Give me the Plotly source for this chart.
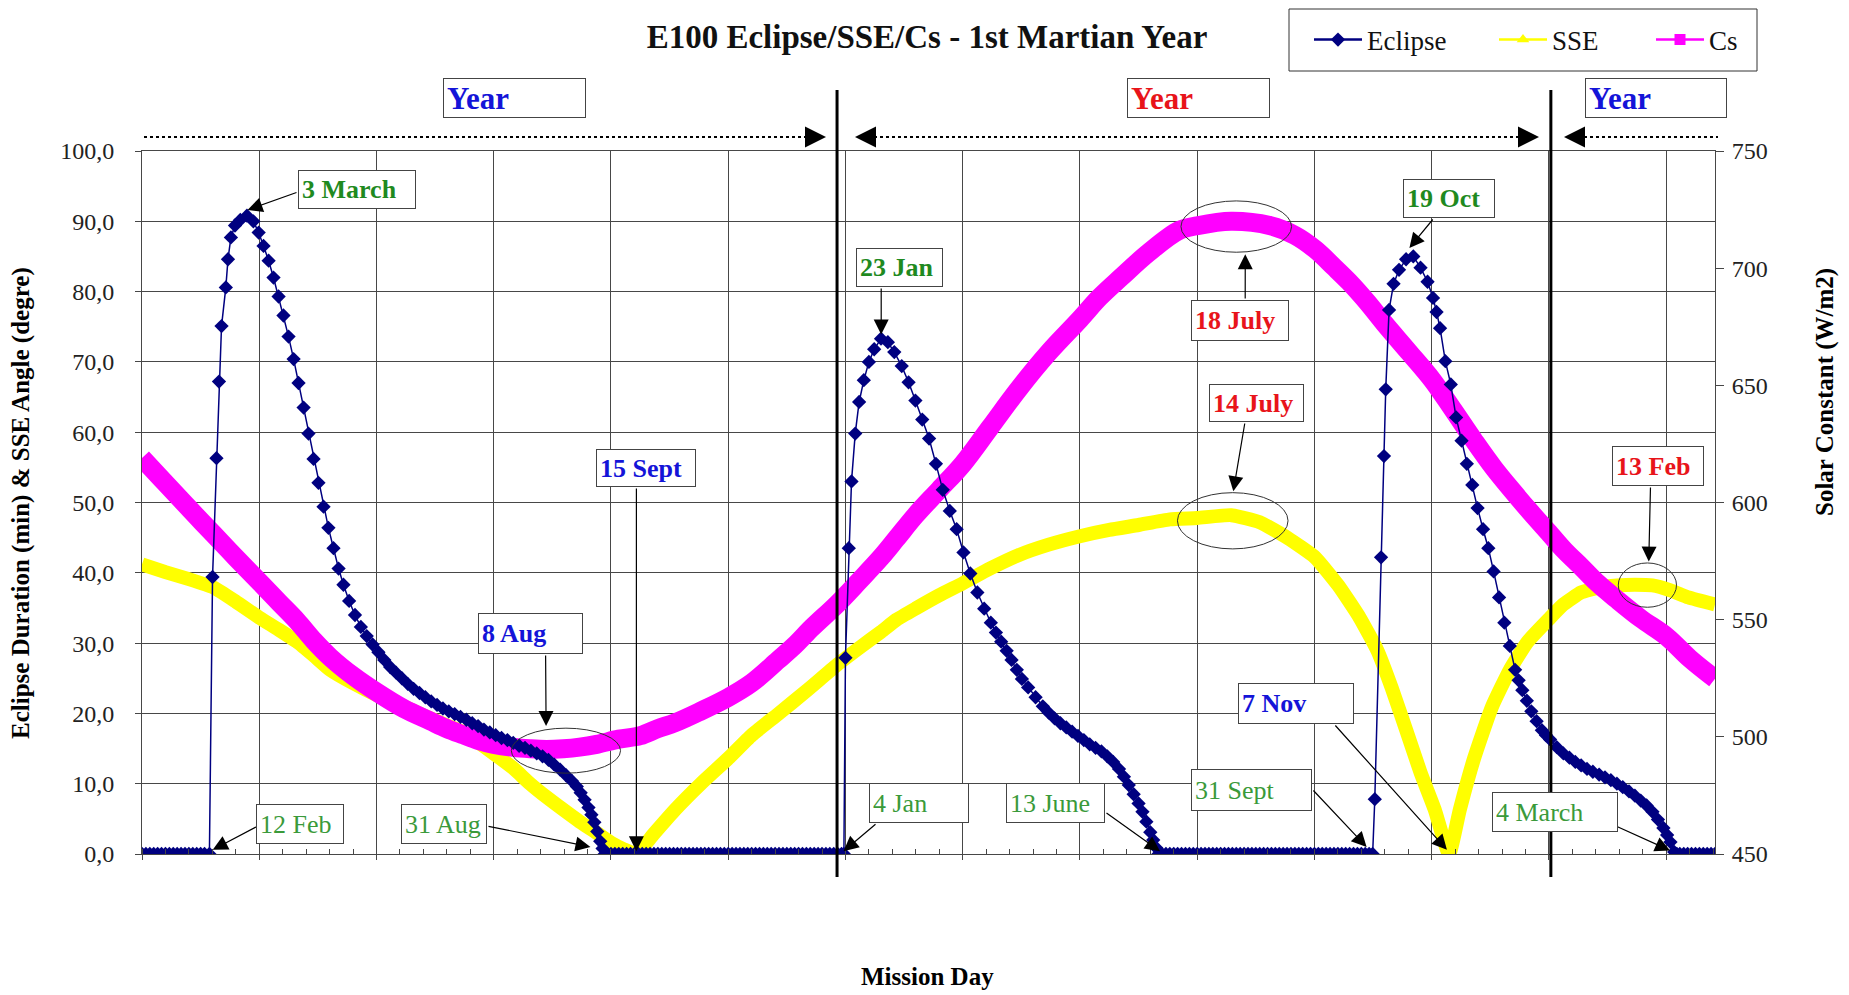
import plotly.graph_objects as go

# ---------------------------------------------------------------- data
# Eclipse duration (min) versus mission day
ECL_DAY = [0, 2, 4, 6, 8, 10, 12, 14, 16, 18, 20, 22, 24, 26, 28, 30, 32, 34.5,
           36.1, 38.1, 39.4, 40.7, 42.9, 44.0, 45.5, 47.6, 50.3, 53.7,
           57.0, 59.7, 62.2, 64.8, 67.3, 69.9, 72.4, 75.0, 77.6, 80.1,
           82.7, 85.2, 87.8, 90.3, 92.9, 95.4, 98.0, 100.6, 103.1, 106.0,
           109.0, 112.0, 115.0, 118.0, 121.0, 124.0, 127.0, 130.0, 133.0, 136.0,
           139.0, 142.0, 145.0, 148.0, 151.0, 154.0, 157.0, 160.0, 163.0, 166.0,
           169.0, 172.0, 175.0, 178.0, 181.0, 184.0, 187.0, 190.0, 193.0, 196.0,
           199.0, 202.0, 205.0, 208.0, 211.0, 214.0, 217.0, 220.0, 222.5, 224.5,
           226.5, 228.5, 230.0, 231.5, 233.0, 234.5, 235.7, 236.8,
           238, 240, 242, 244, 246, 248, 250, 252, 254, 256, 258, 260, 262, 264,
           266, 268, 270, 272, 274, 276, 278, 280, 282, 284, 286, 288, 290, 292,
           294, 296, 298, 300, 302, 304, 306, 308, 310, 312, 314, 316, 318, 320,
           322, 324, 326, 328, 330, 332, 334, 336, 338, 340, 342, 344, 346, 348,
           350, 352, 354, 356, 358, 359.2,
           360.0, 361.7, 363.1, 365.0, 367.0, 369.4, 372.0, 374.7, 378.2,
           381.7, 385.0, 388.8, 392.3, 395.8, 399.3, 402.8, 406.3, 409.8, 413.4,
           416.9, 420.4, 423.9, 427.5, 431.0, 434.4, 437.0, 439.7, 442.5, 445.0,
           447.7, 450.3, 453.5, 457.3, 461.0, 464.0, 467.0, 470.0, 473.0, 476.0,
           479.0, 482.0, 485.0, 488.0, 491.0, 494.0, 497.0, 500.0, 502.5, 505.0,
           507.5, 510.0, 512.0, 514.0, 516.0, 517.5, 519.0, 520.2,
           522, 524, 526, 528, 530, 532, 534, 536, 538, 540, 542, 544, 546, 548,
           550, 552, 554, 556, 558, 560, 562, 564, 566, 568, 570, 572, 574, 576,
           578, 580, 582, 584, 586, 588, 590, 592, 594, 596, 598, 600, 602, 604,
           606, 608, 610, 612, 614, 616, 618, 620, 622, 624, 626, 628, 629.8,
           630.9, 634.1, 635.6, 636.5, 638.2, 640.5, 643.3, 646.9, 650.6,
           654.3, 657.9, 660.7, 662.5, 664.3, 667.0, 669.8, 672.5, 675.3, 678.0,
           680.8, 683.5, 686.3, 689.0, 691.7, 694.5, 697.2, 700.0, 702.7, 704.5,
           706.4, 708.7, 711.0, 713.7, 716.4, 718.5, 720.6, 724.0, 727.4, 730.5,
           733.5, 736.5, 739.5, 742.5, 745.7, 748.7, 751.7, 754.8, 757.8, 761.0,
           764.0, 767.0, 770.0, 773.0, 775.8, 778.6, 780.5, 782.2, 784.1, 785.5,
           787, 789, 791, 793, 795, 797, 799, 801, 803, 805]
ECL_MIN = [0, 0, 0, 0, 0, 0, 0, 0, 0, 0, 0, 0, 0, 0, 0, 0, 0, 0,
           39.4, 56.3, 67.2, 75.1, 80.6, 84.6, 87.7, 89.4, 90.2, 90.8,
           90.0, 88.4, 86.5, 84.4, 82.0, 79.3, 76.6, 73.6, 70.4, 67.0,
           63.5, 59.8, 56.2, 52.8, 49.4, 46.4, 43.5, 40.6, 38.3, 36.0,
           34.0, 32.3, 31.0, 29.8, 28.7, 27.6, 26.6, 25.8, 25.0, 24.2,
           23.5, 22.9, 22.3, 21.7, 21.2, 20.7, 20.3, 19.9, 19.5, 19.1,
           18.6, 18.2, 17.7, 17.3, 16.9, 16.5, 16.2, 15.8, 15.4, 15.1,
           14.7, 14.3, 13.9, 13.4, 12.7, 12.0, 11.2, 10.4, 9.6, 8.7,
           7.7, 6.6, 5.6, 4.5, 3.2, 1.8, 0.8, 0,
           0, 0, 0, 0, 0, 0, 0, 0, 0, 0, 0, 0, 0, 0,
           0, 0, 0, 0, 0, 0, 0, 0, 0, 0, 0, 0, 0, 0,
           0, 0, 0, 0, 0, 0, 0, 0, 0, 0, 0, 0, 0, 0,
           0, 0, 0, 0, 0, 0, 0, 0, 0, 0, 0, 0, 0, 0,
           0, 0, 0, 0, 0, 0,
           27.9, 43.5, 53.0, 59.8, 64.3, 67.4, 70.0, 71.8, 73.3,
           72.8, 71.4, 69.4, 67.1, 64.5, 61.8, 59.1, 55.5, 51.8, 48.8,
           46.2, 42.9, 39.9, 37.2, 34.9, 32.9, 31.5, 30.2, 28.9, 27.6,
           26.2, 24.9, 23.7, 22.3, 21.0, 20.1, 19.3, 18.6, 18.0, 17.4,
           16.8, 16.2, 15.6, 15.1, 14.6, 13.9, 13.1, 12.1, 11.0, 9.8,
           8.5, 7.2, 6.0, 4.6, 3.1, 2.0, 0.9, 0,
           0, 0, 0, 0, 0, 0, 0, 0, 0, 0, 0, 0, 0, 0,
           0, 0, 0, 0, 0, 0, 0, 0, 0, 0, 0, 0, 0, 0,
           0, 0, 0, 0, 0, 0, 0, 0, 0, 0, 0, 0, 0, 0,
           0, 0, 0, 0, 0, 0, 0, 0, 0, 0, 0, 0, 0,
           7.8, 42.2, 56.6, 66.1, 77.4, 81.1, 83.1, 84.6, 85.0,
           83.4, 81.4, 79.1, 77.1, 74.8, 70.1, 66.8, 62.1, 58.8, 55.5,
           52.5, 49.2, 46.2, 43.5, 40.2, 36.5, 32.9, 29.6, 26.2, 24.7,
           23.3, 21.8, 20.3, 18.9, 17.6, 16.9, 16.3, 15.2, 14.3, 13.7,
           13.1, 12.6, 12.1, 11.7, 11.3, 10.9, 10.5, 10.0, 9.5, 8.9,
           8.3, 7.6, 6.9, 6.0, 4.9, 3.7, 2.7, 1.7, 0.3, 0,
           0, 0, 0, 0, 0, 0, 0, 0, 0, 0]

# Sun-Spacecraft-Earth angle (degrees)
SSE_DAY = [0, 12, 24, 36.6, 48, 60.2, 70, 79.3, 88, 96.3, 108, 120.2, 134, 147.4,
           156, 164.5, 172, 180, 190, 198.6, 207, 215.6, 224, 232.7, 240, 246.3,
           253, 262, 272.8, 286, 300, 312, 325.5, 340, 355.7, 367, 378.2, 386,
           395.8, 408, 420, 434, 448.5, 464, 480, 495, 510, 526, 540, 557.4, 572,
           586.6, 600.3, 612.2, 623.2, 632.3, 639.6, 647, 654.3, 661.6, 668.9,
           674.4, 681.7, 690.8, 700, 709.1, 720.6, 727.4, 736.5, 745.7, 754.8,
           764, 773, 782.2, 791.4, 805]
SSE_DEG = [41.2, 40.1, 39.1, 37.9, 35.9, 33.6, 31.9, 30.2, 28.2, 26.2, 24.3, 22.6,
           21.0, 19.3, 18.3, 17.3, 15.9, 14.3, 12.2, 10.0, 8.1, 6.3, 4.6, 3.0, 1.6,
           0.7, 0.0, 2.9, 6.3, 10.0, 13.6, 16.9, 19.9, 23.2, 26.9, 29.3, 31.6, 33.3,
           34.9, 36.8, 38.5, 40.6, 42.5, 44.0, 45.2, 46.1, 46.8, 47.6, 47.8, 48.2,
           47.2, 44.9, 42.2, 38.2, 33.6, 28.9, 23.6, 17.6, 11.6, 6.3, 0.0, 6.3,
           13.6, 20.9, 26.2, 30.2, 33.6, 35.5, 37.2, 37.9, 38.2, 38.3, 38.2, 37.5,
           36.5, 35.5]

# Solar constant (W/m2)
CS_DAY = [0, 10, 19.6, 28, 36.6, 48, 60.2, 70, 79.3, 88, 96.3, 108, 120.2, 134,
          147.4, 156, 164.5, 172, 180, 190, 198.6, 207, 215.6, 224, 232.7, 244,
          255, 264, 272.8, 286, 300, 312, 325.5, 334, 343, 355.7, 367, 378.2, 386,
          395.8, 408, 420, 434, 448.5, 464, 480, 490, 501.2, 515, 530.8, 540,
          557.4, 577.5, 590, 600.3, 610, 617.7, 627, 636, 648, 660.3, 671, 681.7,
          692, 701.8, 711, 720.6, 728, 736.5, 745, 754.8, 767, 780.4, 792, 805]
CS_WM2 = [619.0, 610.0, 601.5, 594.0, 586.5, 576.5, 566.0, 557.5, 549.5, 541.0,
          534.0, 526.0, 519.0, 512.0, 506.8, 503.5, 500.8, 498.5, 496.8, 495.5,
          494.9, 494.6, 494.9, 495.6, 496.8, 499.0, 500.5, 503.5, 506.0, 511.0,
          516.8, 523.0, 532.7, 539.0, 546.7, 556.6, 566.5, 576.6, 584.5, 594.5,
          605.5, 616.4, 632.0, 648.3, 664.0, 678.2, 687.5, 696.2, 706.5, 716.1,
          718.1, 720.0, 718.1, 714.0, 708.1, 700.5, 694.2, 685.5, 676.2, 664.5,
          652.3, 639.5, 626.4, 614.5, 604.5, 595.5, 586.5, 579.5, 572.6, 565.5,
          558.6, 550.5, 542.7, 533.5, 524.8]

LEFT_TICKS = [0, 10, 20, 30, 40, 50, 60, 70, 80, 90, 100]
LEFT_TICKTEXT = ["0,0", "10,0", "20,0", "30,0", "40,0", "50,0", "60,0",
                 "70,0", "80,0", "90,0", "100,0"]
RIGHT_TICKS = [450, 500, 550, 600, 650, 700, 750]
X_RANGE = [0, 805]
YEAR_BOUNDS = [355.7, 721.0]          # Jan 1st of each calendar year

# ---------------------------------------------------------------- layout geometry
W, H = 1849, 995
ML, MR, MT, MB = 142, 134, 151, 141
PW, PH = W - ML - MR, H - MT - MB
SERIF = "Liberation Serif, Times New Roman, serif"
GRID = "#474747"
NAVY, YELLOW, MAGENTA = "#000080", "#ffff00", "#ff00ff"

GREEN_B = "#1f8a1f"
GREEN_R = "#3a9a3a"
BLUE = "#1414d8"
RED = "#e8141a"


def paper_x(px):
    return (px - ML) / PW


def paper_y(py):
    return (H - MB - py) / PH


def day_at(px):
    return X_RANGE[0] + (px - ML) / PW * (X_RANGE[1] - X_RANGE[0])


def val_at(py):
    return (H - MB - py) / PH * 100.0


fig = go.Figure()

fig.add_trace(go.Scatter(x=SSE_DAY, y=SSE_DEG, mode="lines", yaxis="y",
                         line=dict(color=YELLOW, width=14, shape="spline", smoothing=0.45),
                         showlegend=False, hoverinfo="skip"))
fig.add_trace(go.Scatter(x=CS_DAY, y=CS_WM2, mode="lines", yaxis="y2",
                         line=dict(color=MAGENTA, width=19, shape="spline", smoothing=1),
                         showlegend=False, hoverinfo="skip"))
fig.add_trace(go.Scatter(x=ECL_DAY, y=ECL_MIN, mode="lines+markers", yaxis="y3",
                         line=dict(color=NAVY, width=1.5),
                         marker=dict(symbol="diamond", size=11, color=NAVY),
                         showlegend=False, hoverinfo="skip"))

# legend keys, one small legend per key so each can sit at its own spot
LEGEND_KEYS = [("Eclipse", NAVY, "diamond", "legend", 1315),
               ("SSE", YELLOW, "triangle-up", "legend2", 1500),
               ("Cs", MAGENTA, "square", "legend3", 1657)]
legend_layout = {}
for name, col, sym, lg, sx in LEGEND_KEYS:
    fig.add_trace(go.Scatter(x=[None], y=[None], name=name, mode="lines+markers",
                             legend=lg, line=dict(color=col, width=2.5),
                             marker=dict(symbol=sym, size=11, color=col)))
    legend_layout[lg] = dict(x=paper_x(sx - 6), y=paper_y(40), xanchor="left",
                             yanchor="middle", bgcolor="rgba(0,0,0,0)", borderwidth=0,
                             itemwidth=48,
                             font=dict(family=SERIF, size=27, color="#111111"))

shapes = []
# frame around the legend keys
shapes.append(dict(type="rect", xref="paper", yref="paper",
                   x0=paper_x(1289), x1=paper_x(1757), y0=paper_y(71), y1=paper_y(9),
                   line=dict(color="#333333", width=1), fillcolor="white"))
# calendar-year boundaries
for d in YEAR_BOUNDS:
    shapes.append(dict(type="line", xref="x", yref="paper", x0=d, x1=d,
                       y0=paper_y(877), y1=paper_y(90), line=dict(color="black", width=3)))
# dotted year spans
for x0, x1 in [(144, 806), (874, 1520), (1584, 1718)]:
    shapes.append(dict(type="line", xref="paper", yref="paper",
                       x0=paper_x(x0), x1=paper_x(x1), y0=paper_y(137), y1=paper_y(137),
                       line=dict(color="black", width=2, dash="dot")))
# ellipses around the extremes
for x0, x1, y0, y1 in [(189.0, 244.9, 11.5, 17.9), (531.7, 588.3, 85.6, 92.9),
                       (529.9, 586.5, 43.4, 51.4), (755.5, 785.3, 35.1, 41.4)]:
    shapes.append(dict(type="circle", xref="x", yref="y", x0=x0, x1=x1, y0=y0, y1=y1,
                       line=dict(color="#333333", width=1)))

annotations = []

# arrowheads of the dotted year spans
for tip, off in [(826, -22), (855, 22), (1539, -22), (1564, 22)]:
    annotations.append(dict(xref="paper", yref="paper", x=paper_x(tip), y=paper_y(137),
                            ax=off, ay=0, text="", showarrow=True, arrowhead=2,
                            arrowsize=2.8, arrowwidth=1.5, arrowcolor="black", standoff=0))

# "Year" labels
for (x0, y0, x1, y1), col in [((443, 80, 586, 120), BLUE), ((1127, 80, 1270, 120), RED),
                              ((1585, 80, 1727, 120), BLUE)]:
    pad = 3
    annotations.append(dict(xref="paper", yref="paper", x=paper_x((x0 + x1) / 2),
                            y=paper_y((y0 + y1) / 2 - 2), xanchor="center", yanchor="middle",
                            text="<b>Year</b>", font=dict(family=SERIF, size=31, color=col),
                            width=x1 - x0 - 2 * (pad + 1), height=y1 - y0 - 2 * (pad + 1),
                            align="left", valign="middle", showarrow=False,
                            bgcolor="white", bordercolor="#444444", borderwidth=1, borderpad=pad))

# date call-outs: text, colour, bold, box (px), arrow tail (px), arrow tip (day, value)
CALLOUTS = [
    ("3 March", GREEN_B, True, (298, 170, 416, 209), (298, 192), (54.0, 91.6)),
    ("12 Feb", GREEN_R, False, (256, 804, 344, 844), (258, 826), (36.2, 0.6)),
    ("31 Aug", GREEN_R, False, (401, 804, 487, 844), (487, 826), (229.5, 1.0)),
    ("8 Aug", BLUE, True, (478, 613, 583, 654), (545.6, 654), (206.8, 18.2)),
    ("15 Sept", BLUE, True, (596, 449, 696, 487), (636.4, 487), (253.0, 0.4)),
    ("23 Jan", GREEN_B, True, (856, 248, 943, 287), (881.2, 287), (378.3, 73.9)),
    ("4 Jan", GREEN_R, False, (869, 783, 969, 823), (877, 823), (359.0, 0.4)),
    ("13 June", GREEN_R, False, (1006, 783, 1105, 823), (1105, 812), (521.0, 0.4)),
    ("18 July", RED, True, (1191, 300, 1289, 341), (1245.2, 300), (564.6, 85.3)),
    ("14 July", RED, True, (1209, 384, 1304, 422), (1245, 422), (558.5, 51.6)),
    ("19 Oct", GREEN_B, True, (1403, 179, 1495, 218), (1434, 218), (648.6, 86.2)),
    ("7 Nov", BLUE, True, (1238, 683, 1354, 724), (1334, 724), (667.8, 0.6)),
    ("31 Sept", GREEN_R, False, (1191, 769, 1312, 811), (1312, 789), (626.7, 1.0)),
    ("4 March", GREEN_R, False, (1492, 792, 1618, 832), (1616, 826), (782.0, 0.5)),
    ("13 Feb", RED, True, (1612, 446, 1704, 486), (1650.5, 486), (771.1, 41.6)),
]

for text, col, bold, (x0, y0, x1, y1), (tx, ty), (dx, dy) in CALLOUTS:
    annotations.append(dict(xref="x", yref="y", x=dx, y=dy, axref="x", ayref="y",
                            ax=day_at(tx), ay=val_at(ty), text="", showarrow=True,
                            arrowhead=2, arrowsize=2.5, arrowwidth=1.2,
                            arrowcolor="black", standoff=0))
    pad = 3
    label = f"<b>{text}</b>" if bold else text
    annotations.append(dict(xref="paper", yref="paper", x=paper_x((x0 + x1) / 2),
                            y=paper_y((y0 + y1) / 2), xanchor="center", yanchor="middle",
                            text=label, font=dict(family=SERIF, size=26, color=col),
                            width=x1 - x0 - 2 * (pad + 1), height=y1 - y0 - 2 * (pad + 1),
                            align="left", valign="middle", showarrow=False,
                            bgcolor="white", bordercolor="#444444", borderwidth=1, borderpad=pad))

# axis titles
annotations.append(dict(xref="paper", yref="paper", x=paper_x(21), y=paper_y(503),
                        text="<b>Eclipse Duration (min) & SSE Angle (degre)</b>",
                        textangle=-90, showarrow=False, xanchor="center", yanchor="middle",
                        font=dict(family=SERIF, size=25, color="black")))
annotations.append(dict(xref="paper", yref="paper", x=paper_x(1825), y=paper_y(392),
                        text="<b>Solar Constant (W/m2)</b>",
                        textangle=-90, showarrow=False, xanchor="center", yanchor="middle",
                        font=dict(family=SERIF, size=25, color="black")))
annotations.append(dict(xref="paper", yref="paper", x=paper_x(927), y=paper_y(977),
                        text="<b>Mission Day</b>", showarrow=False,
                        xanchor="center", yanchor="middle",
                        font=dict(family=SERIF, size=25, color="black")))

fig.update_layout(
    width=W, height=H,
    margin=dict(l=ML, r=MR, t=MT, b=MB, pad=0),
    paper_bgcolor="white", plot_bgcolor="white",
    font=dict(family=SERIF, color="#222222"),
    title=dict(text="<b>E100 Eclipse/SSE/Cs - 1st Martian Year</b>",
               x=927 / W, y=1 - 36 / H, xanchor="center", yanchor="middle",
               font=dict(family=SERIF, size=33, color="#111111")),
    showlegend=True,
    xaxis=dict(range=X_RANGE, showgrid=True, gridcolor=GRID, gridwidth=1,
               tick0=0, dtick=60, showticklabels=False, ticks="outside", ticklen=5,
               tickcolor=GRID, showline=True, linecolor=GRID, linewidth=1, mirror=True,
               zeroline=False,
               minor=dict(dtick=12, ticks="inside", ticklen=5, tickcolor=GRID, showgrid=False)),
    yaxis=dict(range=[0, 100], tickvals=LEFT_TICKS, ticktext=LEFT_TICKTEXT,
               showgrid=True, gridcolor=GRID, gridwidth=1, ticks="outside", ticklen=6,
               tickcolor=GRID, ticklabelstandoff=16, showline=True, linecolor=GRID,
               linewidth=1, mirror=True, zeroline=False,
               tickfont=dict(family=SERIF, size=24, color="#222222")),
    yaxis2=dict(range=[450, 750], tickvals=RIGHT_TICKS, overlaying="y", side="right",
                showgrid=False, ticks="outside", ticklen=8, tickcolor=GRID,
                ticklabelstandoff=3, zeroline=False, showline=False,
                tickfont=dict(family=SERIF, size=24, color="#222222")),
    yaxis3=dict(range=[0, 100], overlaying="y", visible=False),
    shapes=shapes,
    annotations=annotations,
    **legend_layout,
)

fig.write_html("out.html", config={"displayModeBar": False})
